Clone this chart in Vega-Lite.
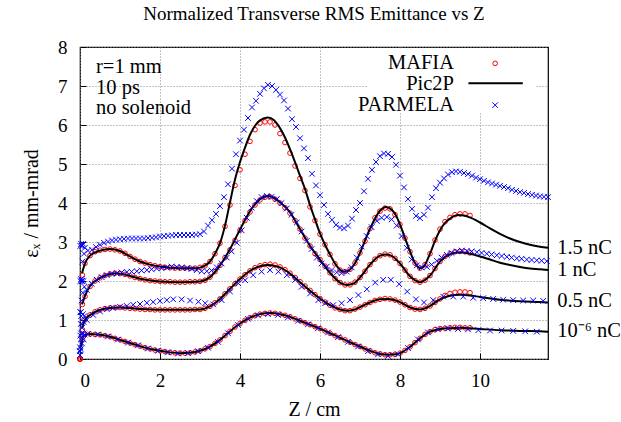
{
"$schema": "https://vega.github.io/schema/vega-lite/v6.json",
"width": 468, "height": 312,
"autosize": {"type": "none"},
"padding": {"left": 80, "top": 47, "right": 73, "bottom": 63},
"background": "white",
"title": {"text": "Normalized Transverse RMS Emittance vs Z", "font": "Liberation Serif", "fontSize": 19, "fontWeight": "normal", "color": "black", "offset": 14, "anchor": "middle"},
"config": {
  "view": {"stroke": "black", "strokeWidth": 1.2},
  "axis": {"labelFont": "Liberation Serif", "labelFontSize": 19, "titleFont": "Liberation Serif", "titleFontSize": 20, "titleFontWeight": "normal", "labelColor": "black", "titleColor": "black", "grid": true, "gridColor": "#888888", "gridDash": [1, 2], "domain": false, "tickColor": "black", "tickSize": -6, "labelOverlap": false},
  "axisX": {"labelPadding": 18, "titlePadding": 9, "tickCount": 12},
  "axisY": {"labelPadding": 19, "titlePadding": 16, "tickCount": 10}
},
"datasets": {
"maf": [
{"c":"a","x":0,"y":0},{"c":"a","x":0.06,"y":2.15},{"c":"a","x":0.125,"y":2.45},{"c":"a","x":0.25,"y":2.65},{"c":"a","x":0.375,"y":2.75},{"c":"a","x":0.5,"y":2.79},{"c":"a","x":0.625,"y":2.81},{"c":"a","x":0.75,"y":2.82},{"c":"a","x":0.875,"y":2.8},{"c":"a","x":1.0,"y":2.77},{"c":"a","x":1.125,"y":2.71},{"c":"a","x":1.25,"y":2.63},{"c":"a","x":1.375,"y":2.56},{"c":"a","x":1.5,"y":2.5},{"c":"a","x":1.625,"y":2.46},{"c":"a","x":1.75,"y":2.42},{"c":"a","x":1.875,"y":2.39},{"c":"a","x":2.0,"y":2.37},{"c":"a","x":2.125,"y":2.35},{"c":"a","x":2.25,"y":2.34},{"c":"a","x":2.375,"y":2.33},{"c":"a","x":2.5,"y":2.33},{"c":"a","x":2.625,"y":2.33},{"c":"a","x":2.75,"y":2.33},{"c":"a","x":2.875,"y":2.33},{"c":"a","x":3.0,"y":2.35},{"c":"a","x":3.125,"y":2.39},{"c":"a","x":3.25,"y":2.5},{"c":"a","x":3.375,"y":2.7},{"c":"a","x":3.5,"y":2.97},{"c":"a","x":3.625,"y":3.4},{"c":"a","x":3.75,"y":3.95},{"c":"a","x":3.875,"y":4.45},{"c":"a","x":4.0,"y":4.85},{"c":"a","x":4.125,"y":5.25},{"c":"a","x":4.25,"y":5.58},{"c":"a","x":4.375,"y":5.88},{"c":"a","x":4.5,"y":6.05},{"c":"a","x":4.625,"y":6.08},{"c":"a","x":4.75,"y":6.08},{"c":"a","x":4.875,"y":6.0},{"c":"a","x":5.0,"y":5.78},{"c":"a","x":5.125,"y":5.55},{"c":"a","x":5.25,"y":5.28},{"c":"a","x":5.375,"y":4.95},{"c":"a","x":5.5,"y":4.63},{"c":"a","x":5.625,"y":4.32},{"c":"a","x":5.75,"y":3.9},{"c":"a","x":5.875,"y":3.55},{"c":"a","x":6.0,"y":3.2},{"c":"a","x":6.125,"y":2.93},{"c":"a","x":6.25,"y":2.68},{"c":"a","x":6.375,"y":2.44},{"c":"a","x":6.5,"y":2.28},{"c":"a","x":6.625,"y":2.24},{"c":"a","x":6.75,"y":2.3},{"c":"a","x":6.875,"y":2.46},{"c":"a","x":7.0,"y":2.72},{"c":"a","x":7.125,"y":3.02},{"c":"a","x":7.25,"y":3.34},{"c":"a","x":7.375,"y":3.62},{"c":"a","x":7.5,"y":3.79},{"c":"a","x":7.625,"y":3.87},{"c":"a","x":7.75,"y":3.85},{"c":"a","x":7.875,"y":3.7},{"c":"a","x":8.0,"y":3.45},{"c":"a","x":8.125,"y":3.1},{"c":"a","x":8.25,"y":2.75},{"c":"a","x":8.375,"y":2.46},{"c":"a","x":8.5,"y":2.33},{"c":"a","x":8.625,"y":2.42},{"c":"a","x":8.75,"y":2.7},{"c":"a","x":8.875,"y":3.05},{"c":"a","x":9.0,"y":3.33},{"c":"a","x":9.125,"y":3.52},{"c":"a","x":9.25,"y":3.63},{"c":"a","x":9.375,"y":3.7},{"c":"a","x":9.5,"y":3.72},{"c":"a","x":9.625,"y":3.72},{"c":"a","x":9.75,"y":3.68},
{"c":"b","x":0,"y":0},{"c":"b","x":0.06,"y":1.4},{"c":"b","x":0.125,"y":1.6},{"c":"b","x":0.25,"y":1.86},{"c":"b","x":0.375,"y":2.0},{"c":"b","x":0.5,"y":2.08},{"c":"b","x":0.625,"y":2.14},{"c":"b","x":0.75,"y":2.18},{"c":"b","x":0.875,"y":2.2},{"c":"b","x":1.0,"y":2.19},{"c":"b","x":1.125,"y":2.17},{"c":"b","x":1.25,"y":2.13},{"c":"b","x":1.375,"y":2.09},{"c":"b","x":1.5,"y":2.06},{"c":"b","x":1.625,"y":2.03},{"c":"b","x":1.75,"y":2.01},{"c":"b","x":1.875,"y":2.0},{"c":"b","x":2.0,"y":1.99},{"c":"b","x":2.125,"y":1.98},{"c":"b","x":2.25,"y":1.98},{"c":"b","x":2.375,"y":1.97},{"c":"b","x":2.5,"y":1.97},{"c":"b","x":2.625,"y":1.97},{"c":"b","x":2.75,"y":1.98},{"c":"b","x":2.875,"y":1.98},{"c":"b","x":3.0,"y":1.99},{"c":"b","x":3.125,"y":2.02},{"c":"b","x":3.25,"y":2.1},{"c":"b","x":3.375,"y":2.24},{"c":"b","x":3.5,"y":2.4},{"c":"b","x":3.625,"y":2.6},{"c":"b","x":3.75,"y":2.8},{"c":"b","x":3.875,"y":3.04},{"c":"b","x":4.0,"y":3.3},{"c":"b","x":4.125,"y":3.55},{"c":"b","x":4.25,"y":3.77},{"c":"b","x":4.375,"y":3.95},{"c":"b","x":4.5,"y":4.08},{"c":"b","x":4.625,"y":4.15},{"c":"b","x":4.75,"y":4.16},{"c":"b","x":4.875,"y":4.1},{"c":"b","x":5.0,"y":4.0},{"c":"b","x":5.125,"y":3.88},{"c":"b","x":5.25,"y":3.74},{"c":"b","x":5.375,"y":3.55},{"c":"b","x":5.5,"y":3.33},{"c":"b","x":5.625,"y":3.1},{"c":"b","x":5.75,"y":2.9},{"c":"b","x":5.875,"y":2.7},{"c":"b","x":6.0,"y":2.55},{"c":"b","x":6.125,"y":2.38},{"c":"b","x":6.25,"y":2.21},{"c":"b","x":6.375,"y":2.06},{"c":"b","x":6.5,"y":1.96},{"c":"b","x":6.625,"y":1.9},{"c":"b","x":6.75,"y":1.9},{"c":"b","x":6.875,"y":1.97},{"c":"b","x":7.0,"y":2.09},{"c":"b","x":7.125,"y":2.25},{"c":"b","x":7.25,"y":2.42},{"c":"b","x":7.375,"y":2.56},{"c":"b","x":7.5,"y":2.65},{"c":"b","x":7.625,"y":2.69},{"c":"b","x":7.75,"y":2.67},{"c":"b","x":7.875,"y":2.58},{"c":"b","x":8.0,"y":2.45},{"c":"b","x":8.125,"y":2.28},{"c":"b","x":8.25,"y":2.12},{"c":"b","x":8.375,"y":2.01},{"c":"b","x":8.5,"y":1.97},{"c":"b","x":8.625,"y":2.02},{"c":"b","x":8.75,"y":2.14},{"c":"b","x":8.875,"y":2.32},{"c":"b","x":9.0,"y":2.5},{"c":"b","x":9.125,"y":2.63},{"c":"b","x":9.25,"y":2.7},{"c":"b","x":9.375,"y":2.75},{"c":"b","x":9.5,"y":2.76},{"c":"b","x":9.625,"y":2.75},{"c":"b","x":9.75,"y":2.72},
{"c":"c","x":0,"y":0},{"c":"c","x":0.06,"y":0.75},{"c":"c","x":0.125,"y":1.0},{"c":"c","x":0.25,"y":1.13},{"c":"c","x":0.375,"y":1.21},{"c":"c","x":0.5,"y":1.26},{"c":"c","x":0.625,"y":1.29},{"c":"c","x":0.75,"y":1.31},{"c":"c","x":0.875,"y":1.32},{"c":"c","x":1.0,"y":1.32},{"c":"c","x":1.125,"y":1.31},{"c":"c","x":1.25,"y":1.3},{"c":"c","x":1.375,"y":1.29},{"c":"c","x":1.5,"y":1.28},{"c":"c","x":1.625,"y":1.27},{"c":"c","x":1.75,"y":1.27},{"c":"c","x":1.875,"y":1.26},{"c":"c","x":2.0,"y":1.26},{"c":"c","x":2.125,"y":1.26},{"c":"c","x":2.25,"y":1.26},{"c":"c","x":2.375,"y":1.26},{"c":"c","x":2.5,"y":1.26},{"c":"c","x":2.625,"y":1.26},{"c":"c","x":2.75,"y":1.26},{"c":"c","x":2.875,"y":1.27},{"c":"c","x":3.0,"y":1.27},{"c":"c","x":3.125,"y":1.3},{"c":"c","x":3.25,"y":1.35},{"c":"c","x":3.375,"y":1.44},{"c":"c","x":3.5,"y":1.54},{"c":"c","x":3.625,"y":1.67},{"c":"c","x":3.75,"y":1.8},{"c":"c","x":3.875,"y":1.93},{"c":"c","x":4.0,"y":2.05},{"c":"c","x":4.125,"y":2.16},{"c":"c","x":4.25,"y":2.26},{"c":"c","x":4.375,"y":2.34},{"c":"c","x":4.5,"y":2.39},{"c":"c","x":4.625,"y":2.42},{"c":"c","x":4.75,"y":2.43},{"c":"c","x":4.875,"y":2.41},{"c":"c","x":5.0,"y":2.36},{"c":"c","x":5.125,"y":2.29},{"c":"c","x":5.25,"y":2.2},{"c":"c","x":5.375,"y":2.09},{"c":"c","x":5.5,"y":1.98},{"c":"c","x":5.625,"y":1.87},{"c":"c","x":5.75,"y":1.76},{"c":"c","x":5.875,"y":1.65},{"c":"c","x":6.0,"y":1.55},{"c":"c","x":6.125,"y":1.46},{"c":"c","x":6.25,"y":1.38},{"c":"c","x":6.375,"y":1.31},{"c":"c","x":6.5,"y":1.27},{"c":"c","x":6.625,"y":1.24},{"c":"c","x":6.75,"y":1.24},{"c":"c","x":6.875,"y":1.28},{"c":"c","x":7.0,"y":1.33},{"c":"c","x":7.125,"y":1.39},{"c":"c","x":7.25,"y":1.45},{"c":"c","x":7.375,"y":1.5},{"c":"c","x":7.5,"y":1.53},{"c":"c","x":7.625,"y":1.55},{"c":"c","x":7.75,"y":1.54},{"c":"c","x":7.875,"y":1.51},{"c":"c","x":8.0,"y":1.46},{"c":"c","x":8.125,"y":1.39},{"c":"c","x":8.25,"y":1.32},{"c":"c","x":8.375,"y":1.28},{"c":"c","x":8.5,"y":1.27},{"c":"c","x":8.625,"y":1.3},{"c":"c","x":8.75,"y":1.36},{"c":"c","x":8.875,"y":1.45},{"c":"c","x":9.0,"y":1.54},{"c":"c","x":9.125,"y":1.63},{"c":"c","x":9.25,"y":1.68},{"c":"c","x":9.375,"y":1.71},{"c":"c","x":9.5,"y":1.72},{"c":"c","x":9.625,"y":1.72},{"c":"c","x":9.75,"y":1.7},
{"c":"d","x":0,"y":0},{"c":"d","x":0.06,"y":0.5},{"c":"d","x":0.125,"y":0.63},{"c":"d","x":0.25,"y":0.64},{"c":"d","x":0.375,"y":0.63},{"c":"d","x":0.5,"y":0.62},{"c":"d","x":0.625,"y":0.6},{"c":"d","x":0.75,"y":0.57},{"c":"d","x":0.875,"y":0.53},{"c":"d","x":1.0,"y":0.49},{"c":"d","x":1.125,"y":0.45},{"c":"d","x":1.25,"y":0.41},{"c":"d","x":1.375,"y":0.37},{"c":"d","x":1.5,"y":0.33},{"c":"d","x":1.625,"y":0.29},{"c":"d","x":1.75,"y":0.26},{"c":"d","x":1.875,"y":0.23},{"c":"d","x":2.0,"y":0.21},{"c":"d","x":2.125,"y":0.19},{"c":"d","x":2.25,"y":0.17},{"c":"d","x":2.375,"y":0.16},{"c":"d","x":2.5,"y":0.15},{"c":"d","x":2.625,"y":0.15},{"c":"d","x":2.75,"y":0.16},{"c":"d","x":2.875,"y":0.18},{"c":"d","x":3.0,"y":0.21},{"c":"d","x":3.125,"y":0.26},{"c":"d","x":3.25,"y":0.32},{"c":"d","x":3.375,"y":0.4},{"c":"d","x":3.5,"y":0.49},{"c":"d","x":3.625,"y":0.6},{"c":"d","x":3.75,"y":0.71},{"c":"d","x":3.875,"y":0.82},{"c":"d","x":4.0,"y":0.91},{"c":"d","x":4.125,"y":0.99},{"c":"d","x":4.25,"y":1.06},{"c":"d","x":4.375,"y":1.11},{"c":"d","x":4.5,"y":1.15},{"c":"d","x":4.625,"y":1.17},{"c":"d","x":4.75,"y":1.18},{"c":"d","x":4.875,"y":1.17},{"c":"d","x":5.0,"y":1.15},{"c":"d","x":5.125,"y":1.12},{"c":"d","x":5.25,"y":1.08},{"c":"d","x":5.375,"y":1.03},{"c":"d","x":5.5,"y":0.98},{"c":"d","x":5.625,"y":0.93},{"c":"d","x":5.75,"y":0.88},{"c":"d","x":5.875,"y":0.83},{"c":"d","x":6.0,"y":0.78},{"c":"d","x":6.125,"y":0.72},{"c":"d","x":6.25,"y":0.66},{"c":"d","x":6.375,"y":0.6},{"c":"d","x":6.5,"y":0.55},{"c":"d","x":6.625,"y":0.49},{"c":"d","x":6.75,"y":0.43},{"c":"d","x":6.875,"y":0.37},{"c":"d","x":7.0,"y":0.32},{"c":"d","x":7.125,"y":0.26},{"c":"d","x":7.25,"y":0.21},{"c":"d","x":7.375,"y":0.16},{"c":"d","x":7.5,"y":0.13},{"c":"d","x":7.625,"y":0.11},{"c":"d","x":7.75,"y":0.11},{"c":"d","x":7.875,"y":0.12},{"c":"d","x":8.0,"y":0.15},{"c":"d","x":8.125,"y":0.22},{"c":"d","x":8.25,"y":0.31},{"c":"d","x":8.375,"y":0.42},{"c":"d","x":8.5,"y":0.53},{"c":"d","x":8.625,"y":0.63},{"c":"d","x":8.75,"y":0.7},{"c":"d","x":8.875,"y":0.75},{"c":"d","x":9.0,"y":0.78},{"c":"d","x":9.125,"y":0.79},{"c":"d","x":9.25,"y":0.8},{"c":"d","x":9.375,"y":0.81},{"c":"d","x":9.5,"y":0.81},{"c":"d","x":9.625,"y":0.8},{"c":"d","x":9.75,"y":0.8}
],
"pic": [
{"c":"a","x":0.05,"y":2.2},{"c":"a","x":0.125,"y":2.45},{"c":"a","x":0.25,"y":2.65},{"c":"a","x":0.5,"y":2.78},{"c":"a","x":0.75,"y":2.82},{"c":"a","x":1.0,"y":2.77},{"c":"a","x":1.25,"y":2.63},{"c":"a","x":1.5,"y":2.5},{"c":"a","x":1.75,"y":2.42},{"c":"a","x":2.0,"y":2.37},{"c":"a","x":2.5,"y":2.33},{"c":"a","x":2.9,"y":2.33},{"c":"a","x":3.1,"y":2.38},{"c":"a","x":3.25,"y":2.5},{"c":"a","x":3.4,"y":2.75},{"c":"a","x":3.5,"y":2.97},{"c":"a","x":3.625,"y":3.42},{"c":"a","x":3.75,"y":4.02},{"c":"a","x":3.875,"y":4.6},{"c":"a","x":4.0,"y":5.05},{"c":"a","x":4.125,"y":5.42},{"c":"a","x":4.25,"y":5.75},{"c":"a","x":4.375,"y":5.98},{"c":"a","x":4.5,"y":6.12},{"c":"a","x":4.7,"y":6.19},{"c":"a","x":4.85,"y":6.12},{"c":"a","x":5.0,"y":5.92},{"c":"a","x":5.125,"y":5.68},{"c":"a","x":5.25,"y":5.38},{"c":"a","x":5.375,"y":5.05},{"c":"a","x":5.5,"y":4.7},{"c":"a","x":5.625,"y":4.36},{"c":"a","x":5.75,"y":3.95},{"c":"a","x":5.875,"y":3.58},{"c":"a","x":6.0,"y":3.22},{"c":"a","x":6.125,"y":2.93},{"c":"a","x":6.25,"y":2.68},{"c":"a","x":6.375,"y":2.45},{"c":"a","x":6.5,"y":2.29},{"c":"a","x":6.6,"y":2.24},{"c":"a","x":6.7,"y":2.26},{"c":"a","x":6.8,"y":2.35},{"c":"a","x":6.9,"y":2.5},{"c":"a","x":7.0,"y":2.72},{"c":"a","x":7.25,"y":3.34},{"c":"a","x":7.5,"y":3.8},{"c":"a","x":7.65,"y":3.9},{"c":"a","x":7.8,"y":3.82},{"c":"a","x":7.9,"y":3.68},{"c":"a","x":8.0,"y":3.45},{"c":"a","x":8.125,"y":3.1},{"c":"a","x":8.25,"y":2.76},{"c":"a","x":8.375,"y":2.46},{"c":"a","x":8.5,"y":2.33},{"c":"a","x":8.6,"y":2.38},{"c":"a","x":8.75,"y":2.7},{"c":"a","x":8.875,"y":3.03},{"c":"a","x":9.0,"y":3.3},{"c":"a","x":9.125,"y":3.49},{"c":"a","x":9.25,"y":3.6},{"c":"a","x":9.45,"y":3.69},{"c":"a","x":9.6,"y":3.68},{"c":"a","x":9.75,"y":3.63},{"c":"a","x":10.0,"y":3.5},{"c":"a","x":10.25,"y":3.35},{"c":"a","x":10.5,"y":3.21},{"c":"a","x":10.75,"y":3.09},{"c":"a","x":11.0,"y":3.0},{"c":"a","x":11.25,"y":2.93},{"c":"a","x":11.5,"y":2.88},{"c":"a","x":11.7,"y":2.85},
{"c":"b","x":0.05,"y":1.4},{"c":"b","x":0.125,"y":1.62},{"c":"b","x":0.25,"y":1.87},{"c":"b","x":0.5,"y":2.08},{"c":"b","x":0.75,"y":2.18},{"c":"b","x":0.9,"y":2.2},{"c":"b","x":1.25,"y":2.13},{"c":"b","x":1.5,"y":2.06},{"c":"b","x":2.0,"y":1.99},{"c":"b","x":2.5,"y":1.97},{"c":"b","x":3.0,"y":1.99},{"c":"b","x":3.25,"y":2.1},{"c":"b","x":3.5,"y":2.4},{"c":"b","x":3.75,"y":2.82},{"c":"b","x":4.0,"y":3.32},{"c":"b","x":4.25,"y":3.79},{"c":"b","x":4.5,"y":4.1},{"c":"b","x":4.7,"y":4.18},{"c":"b","x":4.9,"y":4.1},{"c":"b","x":5.0,"y":4.02},{"c":"b","x":5.25,"y":3.76},{"c":"b","x":5.5,"y":3.33},{"c":"b","x":5.75,"y":2.9},{"c":"b","x":6.0,"y":2.55},{"c":"b","x":6.25,"y":2.21},{"c":"b","x":6.5,"y":1.96},{"c":"b","x":6.67,"y":1.9},{"c":"b","x":6.85,"y":1.94},{"c":"b","x":7.0,"y":2.09},{"c":"b","x":7.25,"y":2.42},{"c":"b","x":7.5,"y":2.65},{"c":"b","x":7.65,"y":2.68},{"c":"b","x":7.8,"y":2.64},{"c":"b","x":8.0,"y":2.45},{"c":"b","x":8.25,"y":2.12},{"c":"b","x":8.5,"y":1.97},{"c":"b","x":8.75,"y":2.14},{"c":"b","x":9.0,"y":2.5},{"c":"b","x":9.25,"y":2.69},{"c":"b","x":9.5,"y":2.74},{"c":"b","x":9.75,"y":2.7},{"c":"b","x":10.0,"y":2.63},{"c":"b","x":10.25,"y":2.55},{"c":"b","x":10.5,"y":2.47},{"c":"b","x":10.75,"y":2.41},{"c":"b","x":11.0,"y":2.36},{"c":"b","x":11.25,"y":2.32},{"c":"b","x":11.5,"y":2.3},{"c":"b","x":11.7,"y":2.28},
{"c":"c","x":0.05,"y":0.8},{"c":"c","x":0.125,"y":1.0},{"c":"c","x":0.25,"y":1.13},{"c":"c","x":0.5,"y":1.26},{"c":"c","x":0.75,"y":1.31},{"c":"c","x":1.0,"y":1.32},{"c":"c","x":1.5,"y":1.28},{"c":"c","x":2.0,"y":1.26},{"c":"c","x":2.5,"y":1.26},{"c":"c","x":3.0,"y":1.27},{"c":"c","x":3.25,"y":1.35},{"c":"c","x":3.5,"y":1.54},{"c":"c","x":3.75,"y":1.8},{"c":"c","x":4.0,"y":2.05},{"c":"c","x":4.25,"y":2.26},{"c":"c","x":4.5,"y":2.38},{"c":"c","x":4.7,"y":2.41},{"c":"c","x":4.9,"y":2.38},{"c":"c","x":5.0,"y":2.35},{"c":"c","x":5.25,"y":2.19},{"c":"c","x":5.5,"y":1.97},{"c":"c","x":5.75,"y":1.75},{"c":"c","x":6.0,"y":1.55},{"c":"c","x":6.25,"y":1.38},{"c":"c","x":6.5,"y":1.27},{"c":"c","x":6.7,"y":1.24},{"c":"c","x":6.9,"y":1.28},{"c":"c","x":7.0,"y":1.33},{"c":"c","x":7.25,"y":1.45},{"c":"c","x":7.5,"y":1.53},{"c":"c","x":7.7,"y":1.54},{"c":"c","x":8.0,"y":1.46},{"c":"c","x":8.25,"y":1.32},{"c":"c","x":8.5,"y":1.27},{"c":"c","x":8.75,"y":1.36},{"c":"c","x":9.0,"y":1.53},{"c":"c","x":9.25,"y":1.62},{"c":"c","x":9.5,"y":1.65},{"c":"c","x":9.75,"y":1.63},{"c":"c","x":10.0,"y":1.59},{"c":"c","x":10.5,"y":1.52},{"c":"c","x":11.0,"y":1.48},{"c":"c","x":11.5,"y":1.46},{"c":"c","x":11.7,"y":1.45},
{"c":"d","x":0.03,"y":0.3},{"c":"d","x":0.08,"y":0.58},{"c":"d","x":0.2,"y":0.64},{"c":"d","x":0.5,"y":0.62},{"c":"d","x":0.75,"y":0.57},{"c":"d","x":1.0,"y":0.49},{"c":"d","x":1.25,"y":0.41},{"c":"d","x":1.5,"y":0.33},{"c":"d","x":1.75,"y":0.26},{"c":"d","x":2.0,"y":0.21},{"c":"d","x":2.25,"y":0.17},{"c":"d","x":2.5,"y":0.15},{"c":"d","x":2.75,"y":0.16},{"c":"d","x":3.0,"y":0.21},{"c":"d","x":3.25,"y":0.32},{"c":"d","x":3.5,"y":0.49},{"c":"d","x":3.75,"y":0.71},{"c":"d","x":4.0,"y":0.91},{"c":"d","x":4.25,"y":1.06},{"c":"d","x":4.5,"y":1.15},{"c":"d","x":4.75,"y":1.18},{"c":"d","x":5.0,"y":1.15},{"c":"d","x":5.25,"y":1.08},{"c":"d","x":5.5,"y":0.98},{"c":"d","x":5.75,"y":0.88},{"c":"d","x":6.0,"y":0.78},{"c":"d","x":6.25,"y":0.66},{"c":"d","x":6.5,"y":0.55},{"c":"d","x":6.75,"y":0.43},{"c":"d","x":7.0,"y":0.32},{"c":"d","x":7.25,"y":0.21},{"c":"d","x":7.5,"y":0.13},{"c":"d","x":7.7,"y":0.11},{"c":"d","x":7.9,"y":0.12},{"c":"d","x":8.0,"y":0.15},{"c":"d","x":8.25,"y":0.31},{"c":"d","x":8.5,"y":0.53},{"c":"d","x":8.75,"y":0.7},{"c":"d","x":9.0,"y":0.77},{"c":"d","x":9.25,"y":0.79},{"c":"d","x":9.5,"y":0.8},{"c":"d","x":10.0,"y":0.77},{"c":"d","x":10.5,"y":0.74},{"c":"d","x":11.0,"y":0.72},{"c":"d","x":11.5,"y":0.71},{"c":"d","x":11.7,"y":0.7}
],
"par": [
{"c":"a","x":0.0,"y":0.2},{"c":"a","x":0.01,"y":2.9},{"c":"a","x":0.02,"y":1.2},{"c":"a","x":0.03,"y":2.95},{"c":"a","x":0.04,"y":2.0},{"c":"a","x":0.05,"y":2.9},{"c":"a","x":0.06,"y":2.5},{"c":"a","x":0.08,"y":2.95},{"c":"a","x":0.1,"y":2.7},{"c":"a","x":0.12,"y":2.85},
{"c":"a","x":0.2,"y":2.78},{"c":"a","x":0.3,"y":2.8},{"c":"a","x":0.4,"y":2.87},{"c":"a","x":0.5,"y":2.93},{"c":"a","x":0.6,"y":2.98},{"c":"a","x":0.7,"y":3.01},{"c":"a","x":0.8,"y":3.04},{"c":"a","x":0.9,"y":3.06},{"c":"a","x":1.0,"y":3.07},{"c":"a","x":1.1,"y":3.08},{"c":"a","x":1.2,"y":3.09},{"c":"a","x":1.3,"y":3.09},{"c":"a","x":1.4,"y":3.09},{"c":"a","x":1.5,"y":3.09},{"c":"a","x":1.6,"y":3.09},{"c":"a","x":1.7,"y":3.1},{"c":"a","x":1.8,"y":3.11},{"c":"a","x":1.9,"y":3.12},{"c":"a","x":2.0,"y":3.14},{"c":"a","x":2.1,"y":3.15},{"c":"a","x":2.2,"y":3.16},{"c":"a","x":2.3,"y":3.17},{"c":"a","x":2.4,"y":3.18},{"c":"a","x":2.5,"y":3.18},{"c":"a","x":2.6,"y":3.18},{"c":"a","x":2.7,"y":3.18},{"c":"a","x":2.8,"y":3.18},{"c":"a","x":2.9,"y":3.19},{"c":"a","x":3.0,"y":3.2},{"c":"a","x":3.1,"y":3.27},{"c":"a","x":3.2,"y":3.42},{"c":"a","x":3.3,"y":3.56},{"c":"a","x":3.4,"y":3.72},{"c":"a","x":3.5,"y":3.92},{"c":"a","x":3.6,"y":4.15},{"c":"a","x":3.7,"y":4.48},{"c":"a","x":3.8,"y":4.88},{"c":"a","x":3.9,"y":5.25},{"c":"a","x":4.0,"y":5.6},{"c":"a","x":4.1,"y":5.88},{"c":"a","x":4.2,"y":6.18},{"c":"a","x":4.3,"y":6.45},{"c":"a","x":4.4,"y":6.62},{"c":"a","x":4.5,"y":6.8},{"c":"a","x":4.6,"y":6.94},{"c":"a","x":4.7,"y":7.03},{"c":"a","x":4.8,"y":7.0},{"c":"a","x":4.9,"y":6.9},{"c":"a","x":5.0,"y":6.78},{"c":"a","x":5.1,"y":6.63},{"c":"a","x":5.2,"y":6.42},{"c":"a","x":5.3,"y":6.15},{"c":"a","x":5.4,"y":5.95},{"c":"a","x":5.5,"y":5.66},{"c":"a","x":5.6,"y":5.4},{"c":"a","x":5.7,"y":5.15},{"c":"a","x":5.8,"y":4.75},{"c":"a","x":5.9,"y":4.45},{"c":"a","x":6.0,"y":4.2},{"c":"a","x":6.1,"y":3.95},{"c":"a","x":6.2,"y":3.72},{"c":"a","x":6.3,"y":3.57},{"c":"a","x":6.4,"y":3.44},{"c":"a","x":6.5,"y":3.37},{"c":"a","x":6.6,"y":3.35},{"c":"a","x":6.7,"y":3.42},{"c":"a","x":6.8,"y":3.6},{"c":"a","x":6.9,"y":3.82},{"c":"a","x":7.0,"y":4.0},{"c":"a","x":7.1,"y":4.3},{"c":"a","x":7.2,"y":4.62},{"c":"a","x":7.3,"y":4.85},{"c":"a","x":7.4,"y":5.05},{"c":"a","x":7.5,"y":5.2},{"c":"a","x":7.6,"y":5.27},{"c":"a","x":7.7,"y":5.26},{"c":"a","x":7.8,"y":5.18},{"c":"a","x":7.9,"y":4.98},{"c":"a","x":8.0,"y":4.7},{"c":"a","x":8.1,"y":4.4},{"c":"a","x":8.2,"y":4.1},{"c":"a","x":8.3,"y":3.85},{"c":"a","x":8.4,"y":3.67},{"c":"a","x":8.5,"y":3.61},{"c":"a","x":8.6,"y":3.7},{"c":"a","x":8.7,"y":3.88},{"c":"a","x":8.8,"y":4.15},{"c":"a","x":8.9,"y":4.38},{"c":"a","x":9.0,"y":4.52},{"c":"a","x":9.1,"y":4.63},{"c":"a","x":9.2,"y":4.73},{"c":"a","x":9.3,"y":4.79},{"c":"a","x":9.4,"y":4.81},{"c":"a","x":9.5,"y":4.8},{"c":"a","x":9.6,"y":4.77},{"c":"a","x":9.7,"y":4.74},{"c":"a","x":9.8,"y":4.7},{"c":"a","x":9.9,"y":4.65},{"c":"a","x":10.0,"y":4.61},{"c":"a","x":10.1,"y":4.57},{"c":"a","x":10.2,"y":4.53},{"c":"a","x":10.3,"y":4.5},{"c":"a","x":10.4,"y":4.47},{"c":"a","x":10.5,"y":4.44},{"c":"a","x":10.6,"y":4.41},{"c":"a","x":10.7,"y":4.38},{"c":"a","x":10.8,"y":4.34},{"c":"a","x":10.9,"y":4.31},{"c":"a","x":11.0,"y":4.28},{"c":"a","x":11.1,"y":4.26},{"c":"a","x":11.2,"y":4.23},{"c":"a","x":11.3,"y":4.21},{"c":"a","x":11.4,"y":4.19},{"c":"a","x":11.5,"y":4.17},{"c":"a","x":11.6,"y":4.16},{"c":"a","x":11.7,"y":4.15},
{"c":"b","x":0.0,"y":0.3},{"c":"b","x":0.01,"y":2.0},{"c":"b","x":0.02,"y":0.9},{"c":"b","x":0.03,"y":2.05},{"c":"b","x":0.04,"y":1.5},{"c":"b","x":0.05,"y":2.0},{"c":"b","x":0.07,"y":1.7},{"c":"b","x":0.09,"y":2.0},{"c":"b","x":0.11,"y":1.85},
{"c":"b","x":0.17,"y":1.77},{"c":"b","x":0.29,"y":1.93},{"c":"b","x":0.42,"y":2.03},{"c":"b","x":0.54,"y":2.1},{"c":"b","x":0.67,"y":2.15},{"c":"b","x":0.79,"y":2.18},{"c":"b","x":0.92,"y":2.2},{"c":"b","x":1.04,"y":2.22},{"c":"b","x":1.17,"y":2.23},{"c":"b","x":1.29,"y":2.24},{"c":"b","x":1.42,"y":2.25},{"c":"b","x":1.54,"y":2.27},{"c":"b","x":1.67,"y":2.28},{"c":"b","x":1.79,"y":2.3},{"c":"b","x":1.92,"y":2.32},{"c":"b","x":2.04,"y":2.33},{"c":"b","x":2.17,"y":2.35},{"c":"b","x":2.29,"y":2.37},{"c":"b","x":2.42,"y":2.36},{"c":"b","x":2.54,"y":2.35},{"c":"b","x":2.67,"y":2.33},{"c":"b","x":2.79,"y":2.31},{"c":"b","x":2.92,"y":2.28},{"c":"b","x":3.04,"y":2.25},{"c":"b","x":3.17,"y":2.25},{"c":"b","x":3.29,"y":2.27},{"c":"b","x":3.42,"y":2.35},{"c":"b","x":3.54,"y":2.45},{"c":"b","x":3.67,"y":2.6},{"c":"b","x":3.79,"y":2.76},{"c":"b","x":3.92,"y":2.98},{"c":"b","x":4.04,"y":3.3},{"c":"b","x":4.17,"y":3.62},{"c":"b","x":4.29,"y":3.88},{"c":"b","x":4.42,"y":4.05},{"c":"b","x":4.54,"y":4.15},{"c":"b","x":4.67,"y":4.18},{"c":"b","x":4.79,"y":4.16},{"c":"b","x":4.92,"y":4.1},{"c":"b","x":5.04,"y":4.0},{"c":"b","x":5.17,"y":3.86},{"c":"b","x":5.29,"y":3.7},{"c":"b","x":5.42,"y":3.5},{"c":"b","x":5.54,"y":3.27},{"c":"b","x":5.67,"y":3.03},{"c":"b","x":5.79,"y":2.82},{"c":"b","x":5.92,"y":2.6},{"c":"b","x":6.04,"y":2.45},{"c":"b","x":6.17,"y":2.37},{"c":"b","x":6.29,"y":2.28},{"c":"b","x":6.42,"y":2.22},{"c":"b","x":6.54,"y":2.2},{"c":"b","x":6.67,"y":2.24},{"c":"b","x":6.79,"y":2.35},{"c":"b","x":6.92,"y":2.6},{"c":"b","x":7.04,"y":2.88},{"c":"b","x":7.17,"y":3.15},{"c":"b","x":7.29,"y":3.38},{"c":"b","x":7.42,"y":3.54},{"c":"b","x":7.54,"y":3.62},{"c":"b","x":7.67,"y":3.64},{"c":"b","x":7.79,"y":3.58},{"c":"b","x":7.92,"y":3.42},{"c":"b","x":8.04,"y":3.15},{"c":"b","x":8.17,"y":2.85},{"c":"b","x":8.29,"y":2.55},{"c":"b","x":8.42,"y":2.4},{"c":"b","x":8.54,"y":2.35},{"c":"b","x":8.67,"y":2.36},{"c":"b","x":8.79,"y":2.42},{"c":"b","x":8.92,"y":2.52},{"c":"b","x":9.04,"y":2.6},{"c":"b","x":9.17,"y":2.67},{"c":"b","x":9.29,"y":2.72},{"c":"b","x":9.42,"y":2.76},{"c":"b","x":9.54,"y":2.78},{"c":"b","x":9.67,"y":2.77},{"c":"b","x":9.79,"y":2.76},{"c":"b","x":9.92,"y":2.74},{"c":"b","x":10.04,"y":2.72},{"c":"b","x":10.17,"y":2.7},{"c":"b","x":10.29,"y":2.68},{"c":"b","x":10.42,"y":2.66},{"c":"b","x":10.54,"y":2.64},{"c":"b","x":10.67,"y":2.62},{"c":"b","x":10.79,"y":2.6},{"c":"b","x":10.92,"y":2.58},{"c":"b","x":11.04,"y":2.57},{"c":"b","x":11.17,"y":2.55},{"c":"b","x":11.29,"y":2.54},{"c":"b","x":11.42,"y":2.53},{"c":"b","x":11.54,"y":2.52},{"c":"b","x":11.67,"y":2.51},
{"c":"c","x":0.0,"y":0.2},{"c":"c","x":0.01,"y":1.2},{"c":"c","x":0.02,"y":0.5},{"c":"c","x":0.03,"y":1.1},{"c":"c","x":0.05,"y":0.8},{"c":"c","x":0.07,"y":1.15},{"c":"c","x":0.09,"y":0.95},{"c":"c","x":0.11,"y":1.1},
{"c":"c","x":0.17,"y":1.0},{"c":"c","x":0.33,"y":1.13},{"c":"c","x":0.5,"y":1.22},{"c":"c","x":0.67,"y":1.28},{"c":"c","x":0.83,"y":1.31},{"c":"c","x":1.0,"y":1.34},{"c":"c","x":1.17,"y":1.36},{"c":"c","x":1.33,"y":1.39},{"c":"c","x":1.5,"y":1.41},{"c":"c","x":1.67,"y":1.44},{"c":"c","x":1.83,"y":1.46},{"c":"c","x":2.0,"y":1.49},{"c":"c","x":2.17,"y":1.51},{"c":"c","x":2.33,"y":1.53},{"c":"c","x":2.54,"y":1.53},{"c":"c","x":2.75,"y":1.5},{"c":"c","x":2.96,"y":1.47},{"c":"c","x":3.13,"y":1.43},{"c":"c","x":3.33,"y":1.4},{"c":"c","x":3.54,"y":1.51},{"c":"c","x":3.75,"y":1.73},{"c":"c","x":3.96,"y":1.94},{"c":"c","x":4.13,"y":2.02},{"c":"c","x":4.33,"y":2.15},{"c":"c","x":4.54,"y":2.24},{"c":"c","x":4.75,"y":2.28},{"c":"c","x":4.96,"y":2.24},{"c":"c","x":5.17,"y":2.15},{"c":"c","x":5.38,"y":2.03},{"c":"c","x":5.54,"y":1.85},{"c":"c","x":5.75,"y":1.68},{"c":"c","x":5.96,"y":1.51},{"c":"c","x":6.13,"y":1.43},{"c":"c","x":6.33,"y":1.38},{"c":"c","x":6.54,"y":1.43},{"c":"c","x":6.75,"y":1.51},{"c":"c","x":6.96,"y":1.64},{"c":"c","x":7.17,"y":1.79},{"c":"c","x":7.38,"y":1.96},{"c":"c","x":7.58,"y":2.03},{"c":"c","x":7.77,"y":2.03},{"c":"c","x":7.98,"y":1.92},{"c":"c","x":8.18,"y":1.73},{"c":"c","x":8.4,"y":1.53},{"c":"c","x":8.6,"y":1.45},{"c":"c","x":8.83,"y":1.51},{"c":"c","x":9.08,"y":1.6},{"c":"c","x":9.33,"y":1.6},{"c":"c","x":9.58,"y":1.6},{"c":"c","x":9.83,"y":1.57},{"c":"c","x":10.08,"y":1.56},{"c":"c","x":10.33,"y":1.54},{"c":"c","x":10.58,"y":1.52},{"c":"c","x":10.83,"y":1.51},{"c":"c","x":11.08,"y":1.5},{"c":"c","x":11.33,"y":1.5},{"c":"c","x":11.58,"y":1.49},
{"c":"d","x":0.0,"y":0.1},{"c":"d","x":0.01,"y":0.6},{"c":"d","x":0.02,"y":0.25},{"c":"d","x":0.03,"y":0.65},{"c":"d","x":0.05,"y":0.4},{"c":"d","x":0.07,"y":0.65},{"c":"d","x":0.09,"y":0.5},{"c":"d","x":0.11,"y":0.63},
{"c":"d","x":0.2,"y":0.64},{"c":"d","x":0.45,"y":0.63},{"c":"d","x":0.7,"y":0.58},{"c":"d","x":0.95,"y":0.5},{"c":"d","x":1.2,"y":0.42},{"c":"d","x":1.45,"y":0.35},{"c":"d","x":1.7,"y":0.27},{"c":"d","x":1.95,"y":0.21},{"c":"d","x":2.2,"y":0.17},{"c":"d","x":2.45,"y":0.14},{"c":"d","x":2.7,"y":0.15},{"c":"d","x":2.95,"y":0.2},{"c":"d","x":3.2,"y":0.29},{"c":"d","x":3.45,"y":0.44},{"c":"d","x":3.7,"y":0.66},{"c":"d","x":3.95,"y":0.87},{"c":"d","x":4.2,"y":1.03},{"c":"d","x":4.45,"y":1.12},{"c":"d","x":4.7,"y":1.15},{"c":"d","x":4.95,"y":1.13},{"c":"d","x":5.2,"y":1.07},{"c":"d","x":5.45,"y":0.98},{"c":"d","x":5.7,"y":0.89},{"c":"d","x":5.95,"y":0.79},{"c":"d","x":6.2,"y":0.68},{"c":"d","x":6.45,"y":0.56},{"c":"d","x":6.7,"y":0.44},{"c":"d","x":6.95,"y":0.32},{"c":"d","x":7.2,"y":0.2},{"c":"d","x":7.45,"y":0.12},{"c":"d","x":7.7,"y":0.08},{"c":"d","x":7.95,"y":0.12},{"c":"d","x":8.2,"y":0.28},{"c":"d","x":8.45,"y":0.5},{"c":"d","x":8.7,"y":0.68},{"c":"d","x":8.95,"y":0.76},{"c":"d","x":9.2,"y":0.78},{"c":"d","x":9.45,"y":0.77},{"c":"d","x":9.7,"y":0.76},{"c":"d","x":9.96,"y":0.74},{"c":"d","x":10.25,"y":0.73},{"c":"d","x":10.54,"y":0.73},{"c":"d","x":10.83,"y":0.72},{"c":"d","x":11.13,"y":0.71},{"c":"d","x":11.42,"y":0.7}
]
},
"layer": [
  {"data": {"values": [{}]}, "mark": {"type": "rect", "color": "white"}, "encoding": {"x": {"datum": 7.2, "scale": {"domain": [0, 11.7], "nice": false}, "axis": {"values": [0, 2, 4, 6, 8, 10], "tickCount": 12, "labelOverlap": false}}, "x2": {"datum": 11.38}, "y": {"datum": 6.3, "scale": {"domain": [0, 8], "nice": false}, "axis": {"values": [0, 1, 2, 3, 4, 5, 6, 7, 8], "tickCount": 10, "labelOverlap": false}}, "y2": {"datum": 7.97}}},
  {"data": {"name": "maf"}, "mark": {"type": "point", "shape": "circle", "filled": false, "color": "#ff0000", "size": 22, "strokeWidth": 1, "opacity": 1},
   "encoding": {
     "x": {"field": "x", "type": "quantitative", "title": "Z / cm", "scale": {"domain": [0, 11.7], "nice": false}, "axis": {"values": [0, 2, 4, 6, 8, 10], "tickCount": 12, "labelOverlap": false}},
     "y": {"field": "y", "type": "quantitative", "title": "εₓ / mm-mrad", "scale": {"domain": [0, 8], "nice": false}, "axis": {"values": [0, 1, 2, 3, 4, 5, 6, 7, 8], "tickCount": 10, "labelOverlap": false}},
     "detail": {"field": "c"}}},
  {"data": {"name": "pic"}, "mark": {"type": "line", "color": "black", "strokeWidth": 2, "interpolate": "monotone"},
   "encoding": {
     "x": {"field": "x", "type": "quantitative", "title": "Z / cm", "scale": {"domain": [0, 11.7], "nice": false}, "axis": {"values": [0, 2, 4, 6, 8, 10], "tickCount": 12, "labelOverlap": false}},
     "y": {"field": "y", "type": "quantitative", "title": "εₓ / mm-mrad", "scale": {"domain": [0, 8], "nice": false}, "axis": {"values": [0, 1, 2, 3, 4, 5, 6, 7, 8], "tickCount": 10, "labelOverlap": false}},
     "detail": {"field": "c"}}},
  {"data": {"name": "par"}, "mark": {"type": "point", "shape": "M-1,-1L1,1M-1,1L1,-1", "filled": false, "color": "#0000ff", "size": 32, "strokeWidth": 1, "opacity": 1},
   "encoding": {
     "x": {"field": "x", "type": "quantitative", "title": "Z / cm", "scale": {"domain": [0, 11.7], "nice": false}, "axis": {"values": [0, 2, 4, 6, 8, 10], "tickCount": 12, "labelOverlap": false}},
     "y": {"field": "y", "type": "quantitative", "title": "εₓ / mm-mrad", "scale": {"domain": [0, 8], "nice": false}, "axis": {"values": [0, 1, 2, 3, 4, 5, 6, 7, 8], "tickCount": 10, "labelOverlap": false}},
     "detail": {"field": "c"}}},
  {"data": {"values": [{}]}, "mark": {"type": "text", "align": "left", "baseline": "middle", "font": "Liberation Serif", "fontSize": 20.5, "color": "black", "lineHeight": 20.5}, "encoding": {"x": {"datum": 0.4}, "y": {"datum": 7.48}, "text": {"value": ["r=1 mm", "10 ps", "no solenoid"]}}},
  {"data": {"values": [{}]}, "mark": {"type": "text", "align": "right", "baseline": "middle", "font": "Liberation Serif", "fontSize": 20.5, "color": "black", "lineHeight": 21}, "encoding": {"x": {"datum": 9.35}, "y": {"datum": 7.58}, "text": {"value": ["MAFIA", "Pic2P", "PARMELA"]}}},
  {"data": {"values": [{}]}, "mark": {"type": "point", "shape": "circle", "filled": false, "color": "#ff0000", "size": 22, "strokeWidth": 1, "opacity": 1}, "encoding": {"x": {"datum": 10.38}, "y": {"datum": 7.58}}},
  {"data": {"values": [{}]}, "mark": {"type": "rule", "color": "black", "strokeWidth": 2}, "encoding": {"x": {"datum": 9.71}, "x2": {"datum": 11.07}, "y": {"datum": 7.07}}},
  {"data": {"values": [{}]}, "mark": {"type": "point", "shape": "M-1,-1L1,1M-1,1L1,-1", "filled": false, "color": "#0000ff", "size": 32, "strokeWidth": 1, "opacity": 1}, "encoding": {"x": {"datum": 10.38}, "y": {"datum": 6.51}}},
  {"data": {"values": [{}]}, "mark": {"type": "text", "align": "left", "baseline": "middle", "font": "Liberation Serif", "fontSize": 20.5, "color": "black"}, "encoding": {"x": {"datum": 11.93}, "y": {"datum": 2.85}, "text": {"value": "1.5 nC"}}},
  {"data": {"values": [{}]}, "mark": {"type": "text", "align": "left", "baseline": "middle", "font": "Liberation Serif", "fontSize": 20.5, "color": "black"}, "encoding": {"x": {"datum": 11.93}, "y": {"datum": 2.29}, "text": {"value": "1 nC"}}},
  {"data": {"values": [{}]}, "mark": {"type": "text", "align": "left", "baseline": "middle", "font": "Liberation Serif", "fontSize": 20.5, "color": "black"}, "encoding": {"x": {"datum": 11.93}, "y": {"datum": 1.48}, "text": {"value": "0.5 nC"}}},
  {"data": {"values": [{}]}, "mark": {"type": "text", "align": "left", "baseline": "middle", "font": "Liberation Serif", "fontSize": 20.5, "color": "black"}, "encoding": {"x": {"datum": 11.93}, "y": {"datum": 0.72}, "text": {"value": "10⁻⁶ nC"}}}
]
}
